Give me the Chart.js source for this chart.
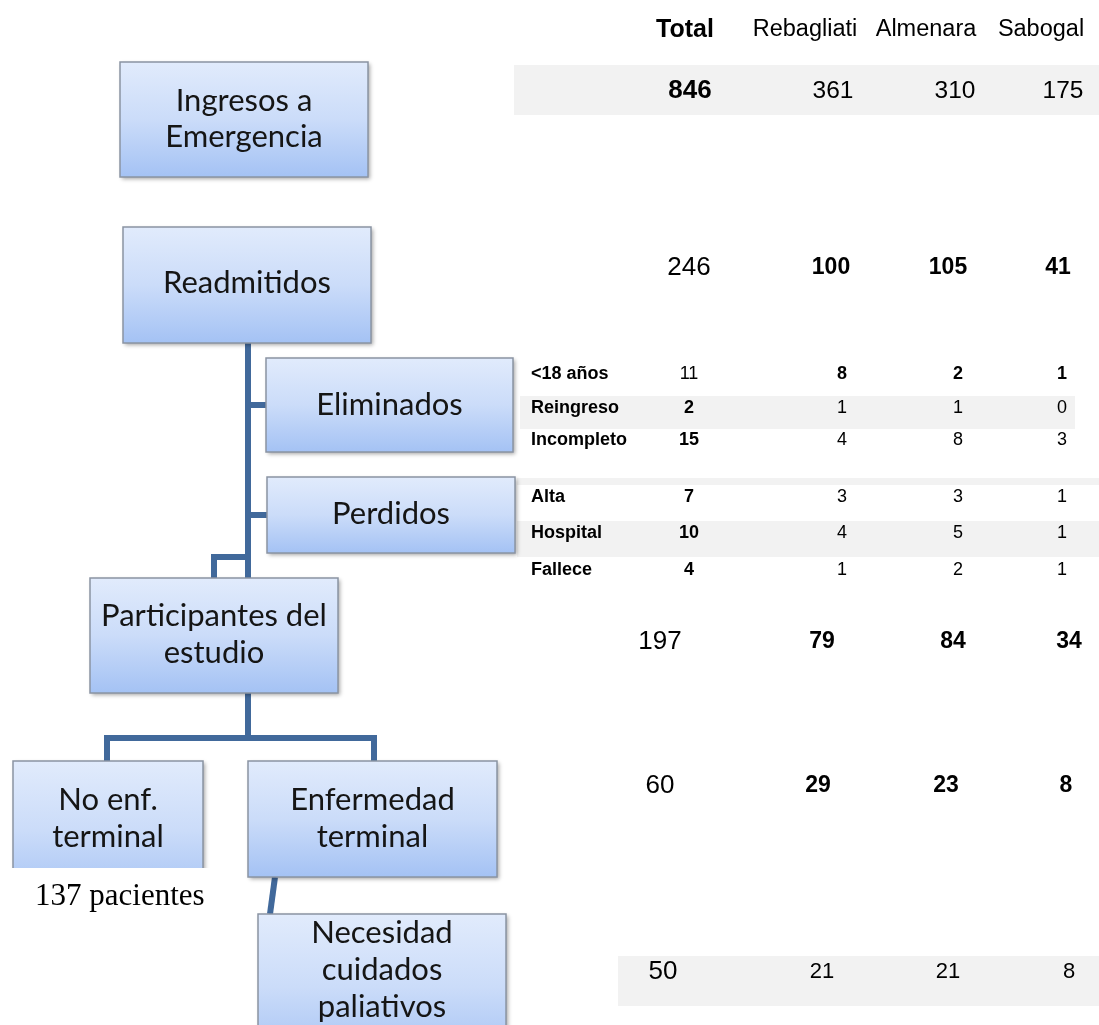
<!DOCTYPE html>
<html>
<head>
<meta charset="utf-8">
<script src="https://cdn.jsdelivr.net/npm/chart.js@4/dist/chart.umd.min.js"></script>
<style>
  html, body { margin: 0; padding: 0; background: #ffffff; }
  #wrap { width: 1099px; height: 1025px; position: relative; }
</style>
</head>
<body>
<div id="wrap"><canvas id="flow"></canvas></div>
<script>
// --- data ---
const columns = ['Total', 'Rebagliati', 'Almenara', 'Sabogal'];
const ingresos = [846, 361, 310, 175];
const readmitidos = [246, 100, 105, 41];
const eliminadosLabels = ['<18 años', 'Reingreso', 'Incompleto'];
const eliminados = [[11, 8, 2, 1], [2, 1, 1, 0], [15, 4, 8, 3]];
const perdidosLabels = ['Alta', 'Hospital', 'Fallece'];
const perdidos = [[7, 3, 3, 1], [10, 4, 5, 1], [4, 1, 2, 1]];
const participantes = [197, 79, 84, 34];
const enfTerminal = [60, 29, 23, 8];
const paliativos = [50, 21, 21, 8];
const noEnfTerminal = '137 pacientes';
const boxLabels = [
    ['Ingresos a', 'Emergencia'],
    ['Readmitidos'],
    ['Eliminados'],
    ['Perdidos'],
    ['Participantes del', 'estudio'],
    ['No enf.', 'terminal'],
    ['Enfermedad', 'terminal'],
    ['Necesidad', 'cuidados', 'paliativos']
];

// --- layout (in page units, mapped through the chart scales) ---
const colX = {
    header: [685, 805, 926, 1041],
    top: [690, 833, 955, 1063],
    readm: [689, 831, 948, 1058],
    sub: [689, 842, 958, 1062],
    part: [660, 822, 953, 1069],
    enf: [660, 818, 946, 1066],
    pal: [663, 822, 948, 1069]
};
const boxRects = [
    [120, 62, 368, 177],
    [123, 227, 371, 343],
    [266, 358, 513, 452],
    [267, 477, 515, 553],
    [90, 578, 338, 693],
    [13, 761, 203, 900],
    [248, 761, 497, 877],
    [258, 914, 506, 1060]
];
const boxTextY = [[101, 137], [283], [405], [514], [616, 653], [800, 837], [800, 837], [933, 970, 1007]];
const connectors = [
    [[248, 343], [248, 578]],
    [[248, 405], [266, 405]],
    [[248, 515], [267, 515]],
    [[248, 557], [214, 557], [214, 578]],
    [[248, 693], [248, 738]],
    [[107, 761], [107, 738], [374, 738], [374, 761]],
    [[275, 877], [270, 914]]
];
const bands = [
    [514, 65, 1099, 115],
    [520, 396, 1075, 429],
    [517, 478, 1099, 485],
    [517, 521, 1099, 557],
    [618, 956, 1099, 1006]
];

const SANS = '"Liberation Sans", Arial, sans-serif';
const f = (w, s) => w + ' ' + s + 'px ' + SANS;

function row(values, y, xs, fonts) {
    return {
        data: values.map((v, i) => ({ x: xs[i], y: y, label: String(v), font: fonts[i] })),
        pointRadius: 0, showLine: false
    };
}
const bigRow = [f('normal', 26), f('bold', 23), f('bold', 23), f('bold', 23)];
const subY = [374, 408, 440, 497, 533, 570];
const subRows = eliminados.concat(perdidos);
const subLabels = eliminadosLabels.concat(perdidosLabels);

let datasets = [
    row(columns, 30, colX.header, [f('bold', 25), f('normal', 23.5), f('normal', 23.5), f('normal', 23.5)]),
    row(ingresos, 91, colX.top, [f('bold', 26), f('normal', 24.5), f('normal', 24.5), f('normal', 24.5)]),
    row(readmitidos, 268, colX.readm, bigRow),
    row(participantes, 642, colX.part, bigRow),
    row(enfTerminal, 786, colX.enf, bigRow),
    row(paliativos, 972, colX.pal, [f('normal', 26), f('normal', 22), f('normal', 22), f('normal', 22)])
];
subRows.forEach((vals, r) => {
    let fonts = r === 0
        ? [f('normal', 18), f('bold', 18), f('bold', 18), f('bold', 18)]
        : [f('bold', 18), f('normal', 18), f('normal', 18), f('normal', 18)];
    let ds = row(vals, subY[r], colX.sub, fonts);
    ds.data.unshift({ x: 531, y: subY[r], label: subLabels[r], font: f('bold', 18), align: 'left' });
    datasets.push(ds);
});

const flowPlugin = {
    id: 'flow',
    beforeDatasetsDraw(chart) {
        const ctx = chart.ctx;
        const X = v => chart.scales.x.getPixelForValue(v);
        const Y = v => chart.scales.y.getPixelForValue(v);
        ctx.save();
        ctx.fillStyle = '#f2f2f2';
        bands.forEach(b => ctx.fillRect(X(b[0]), Y(b[1]), X(b[2]) - X(b[0]), Y(b[3]) - Y(b[1])));

        // connectors
        ctx.strokeStyle = '#41699b';
        ctx.lineWidth = 6;
        ctx.lineJoin = 'miter';
        connectors.forEach(pts => {
            ctx.beginPath();
            pts.forEach((p, i) => i ? ctx.lineTo(X(p[0]), Y(p[1])) : ctx.moveTo(X(p[0]), Y(p[1])));
            ctx.stroke();
        });

        // boxes
        boxRects.forEach((r, k) => {
            const x0 = X(r[0]), y0 = Y(r[1]), w = X(r[2]) - x0, h = Y(r[3]) - y0;
            ctx.save();
            ctx.shadowColor = 'rgba(0,0,0,0.35)';
            ctx.shadowBlur = 4;
            ctx.shadowOffsetX = 1.5;
            ctx.shadowOffsetY = 2;
            const g = ctx.createLinearGradient(0, y0, 0, y0 + h);
            g.addColorStop(0, '#e1ebfc');
            g.addColorStop(0.5, '#cbdcf9');
            g.addColorStop(1, '#a4c2f4');
            ctx.fillStyle = g;
            ctx.fillRect(x0, y0, w, h);
            ctx.restore();
            ctx.strokeStyle = '#8a94a3';
            ctx.lineWidth = 1.5;
            ctx.strokeRect(x0, y0, w, h);
            ctx.fillStyle = '#151515';
            ctx.font = '31px Lato, "Open Sans", sans-serif';
            ctx.textAlign = 'center';
            ctx.textBaseline = 'middle';
            boxLabels[k].forEach((t, i) => ctx.fillText(t, x0 + w / 2, Y(boxTextY[k][i])));
        });

        // white patch under "No enf. terminal" with the patient count
        ctx.fillStyle = '#ffffff';
        ctx.fillRect(X(0), Y(868), X(215) - X(0), Y(930) - Y(868));
        ctx.fillStyle = '#000000';
        ctx.font = '31px "Liberation Serif", "Times New Roman", serif';
        ctx.textAlign = 'left';
        ctx.textBaseline = 'middle';
        ctx.fillText(noEnfTerminal, X(35), Y(897));
        ctx.restore();
    },
    afterDatasetsDraw(chart) {
        const ctx = chart.ctx;
        ctx.save();
        ctx.fillStyle = '#000000';
        ctx.textBaseline = 'middle';
        chart.data.datasets.forEach((ds, i) => {
            chart.getDatasetMeta(i).data.forEach((el, j) => {
                const d = ds.data[j];
                ctx.font = d.font;
                ctx.textAlign = d.align || 'center';
                ctx.fillText(d.label, el.x, el.y);
            });
        });
        ctx.restore();
    }
};

new Chart(document.getElementById('flow'), {
    type: 'scatter',
    data: { datasets: datasets },
    options: {
        responsive: true,
        maintainAspectRatio: false,
        animation: false,
        layout: { padding: 0 },
        plugins: { legend: { display: false }, tooltip: { enabled: false } },
        scales: {
            x: { type: 'linear', min: 0, max: 1099, display: false },
            y: { type: 'linear', min: 0, max: 1025, reverse: true, display: false }
        }
    },
    plugins: [flowPlugin]
});
</script>
</body>
</html>
